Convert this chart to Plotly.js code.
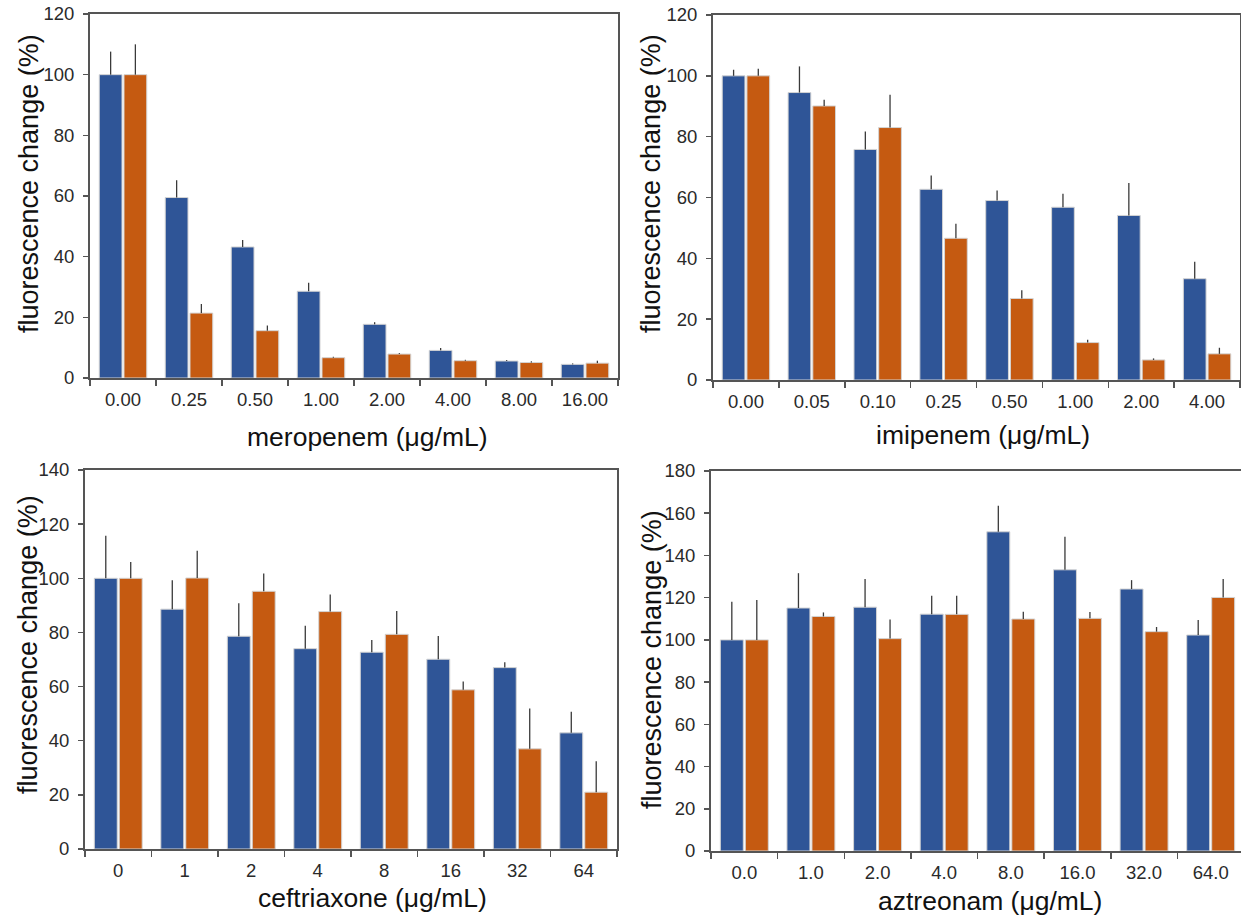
<!DOCTYPE html>
<html>
<head>
<meta charset="utf-8">
<script src="https://cdn.plot.ly/plotly-3.0.1.min.js"></script>
<style>
  html, body { margin: 0; padding: 0; overflow: hidden; background: #fff; }
  #chart { width: 1245px; height: 917px; }
</style>
</head>
<body>
<div id="chart"></div>
<script>
// Fluorescence change (% of untreated) versus antibiotic concentration, two strains per dose.
const meroDoses = ['0.00', '0.25', '0.50', '1.00', '2.00', '4.00', '8.00', '16.00'];
const meroBlue = [100, 59.5, 43.2, 28.6, 17.7, 9.1, 5.6, 4.5];
const meroBlueErr = [7.6, 5.7, 2.3, 2.8, 0.7, 0.8, 0.3, 0.3];
const meroOrange = [100, 21.4, 15.6, 6.7, 7.9, 5.7, 5.1, 4.9];
const meroOrangeErr = [10.0, 3.0, 1.7, 0.3, 0.3, 0.3, 0.4, 0.8];

const imiDoses = ['0.00', '0.05', '0.10', '0.25', '0.50', '1.00', '2.00', '4.00'];
const imiBlue = [100, 94.5, 75.8, 62.7, 59.0, 56.8, 54.1, 33.3];
const imiBlueErr = [2.0, 8.6, 5.9, 4.5, 3.3, 4.4, 10.7, 5.6];
const imiOrange = [100, 90.1, 83.0, 46.6, 26.8, 12.3, 6.6, 8.6];
const imiOrangeErr = [2.3, 2.0, 10.8, 4.8, 2.7, 0.9, 0.5, 2.0];

const cefDoses = ['0', '1', '2', '4', '8', '16', '32', '64'];
const cefBlue = [100, 88.6, 78.6, 74.0, 72.7, 70.1, 67.0, 42.9];
const cefBlueErr = [15.7, 10.7, 12.2, 8.5, 4.5, 8.6, 2.0, 7.8];
const cefOrange = [100, 100.1, 95.2, 87.7, 79.3, 58.8, 37.0, 21.0];
const cefOrangeErr = [6.0, 10.1, 6.6, 6.3, 8.6, 3.1, 14.9, 11.4];

const aztDoses = ['0.0', '1.0', '2.0', '4.0', '8.0', '16.0', '32.0', '64.0'];
const aztBlue = [100, 115.1, 115.5, 112.2, 151.2, 133.2, 124.1, 102.3];
const aztBlueErr = [18.1, 16.5, 13.3, 8.7, 12.3, 15.6, 4.2, 7.1];
const aztOrange = [100, 111.1, 100.6, 112.1, 109.9, 110.2, 103.9, 120.1];
const aztOrangeErr = [18.9, 1.9, 9.1, 8.8, 3.4, 3.0, 2.2, 8.7];

const xTitles = ['meropenem (μg/mL)', 'imipenem (μg/mL)', 'ceftriaxone (μg/mL)', 'aztreonam (μg/mL)'];
const yTitle = 'fluorescence change (%)';
const yMax = [120, 120, 140, 180];

const BLUE = '#2F5597';
const ORANGE = '#C55A11';
const FONT = '"Liberation Sans", Arial, sans-serif';
const W = 1245, H = 917;

const panels = [
  { doses: meroDoses, a: meroBlue, aErr: meroBlueErr, b: meroOrange, bErr: meroOrangeErr },
  { doses: imiDoses, a: imiBlue, aErr: imiBlueErr, b: imiOrange, bErr: imiOrangeErr },
  { doses: cefDoses, a: cefBlue, aErr: cefBlueErr, b: cefOrange, bErr: cefOrangeErr },
  { doses: aztDoses, a: aztBlue, aErr: aztBlueErr, b: aztOrange, bErr: aztOrangeErr }
];

// plot-area boxes in pixels: [left, right, top, bottom]
const boxes = [
  [90, 618, 14, 378],
  [713, 1240, 15, 380],
  [85, 617, 470, 849],
  [711, 1244, 471, 851]
];
// axis title anchors in pixels
const yTitlePos = [[29, 184], [651, 184], [28, 645], [652, 660]];
const xTitlePos = [[367, 437], [983, 435], [372, 898], [990, 901]];

const traces = [];
const layout = {
  width: W, height: H,
  margin: { l: 0, r: 0, t: 0, b: 0 },
  paper_bgcolor: '#fff', plot_bgcolor: '#fff',
  showlegend: false,
  barmode: 'group',
  bargap: 0.25,
  bargroupgap: 0.08,
  font: { family: FONT, color: '#333' },
  annotations: []
};

function errBar(arr) {
  return {
    type: 'data', symmetric: false, array: arr,
    arrayminus: arr.map(() => 0),
    width: 0, thickness: 1.3, color: '#3a3a3a'
  };
}

panels.forEach((p, i) => {
  const n = i === 0 ? '' : String(i + 1);
  const xa = 'x' + n, ya = 'y' + n;
  const [l, r, t, b] = boxes[i];
  [[p.a, p.aErr, BLUE, 'strain 1'], [p.b, p.bErr, ORANGE, 'strain 2']].forEach(([vals, err, col, name]) => {
    traces.push({
      type: 'bar', name: name, x: p.doses, y: vals,
      xaxis: xa, yaxis: ya,
      marker: { color: col, line: { color: '#d4d4d4', width: 1 } },
      error_y: errBar(err),
      hoverinfo: 'x+y'
    });
  });
  layout['xaxis' + n] = {
    domain: [l / W, r / W], anchor: ya, type: 'category',
    showline: true, linecolor: '#555', linewidth: 2, mirror: true,
    ticks: 'outside', tickson: 'boundaries', ticklen: 6, tickwidth: 1.5, tickcolor: '#555',
    tickfont: { size: 18.5, color: '#2a2a2a', family: FONT },
    ticklabelstandoff: 4,
    showgrid: false, zeroline: false, fixedrange: true
  };
  layout['yaxis' + n] = {
    domain: [1 - b / H, 1 - t / H], anchor: xa,
    range: [0, yMax[i]], dtick: 20,
    showline: true, linecolor: '#555', linewidth: 2, mirror: true,
    ticks: 'outside', ticklen: 5, tickwidth: 1.5, tickcolor: '#555',
    tickfont: { size: 18.5, color: '#2a2a2a', family: FONT },
    ticklabelstandoff: 5,
    showgrid: false, zeroline: false, fixedrange: true
  };
  layout.annotations.push({
    xref: 'paper', yref: 'paper',
    x: yTitlePos[i][0] / W, y: 1 - yTitlePos[i][1] / H,
    xanchor: 'center', yanchor: 'middle', textangle: -90,
    text: yTitle, showarrow: false,
    font: { size: 27, color: '#111', family: FONT }
  });
  layout.annotations.push({
    xref: 'paper', yref: 'paper',
    x: xTitlePos[i][0] / W, y: 1 - xTitlePos[i][1] / H,
    xanchor: 'center', yanchor: 'middle',
    text: xTitles[i], showarrow: false,
    font: { size: 26.5, color: '#111', family: FONT }
  });
});

Plotly.newPlot('chart', traces, layout, { displayModeBar: false, staticPlot: true });
</script>
</body>
</html>
